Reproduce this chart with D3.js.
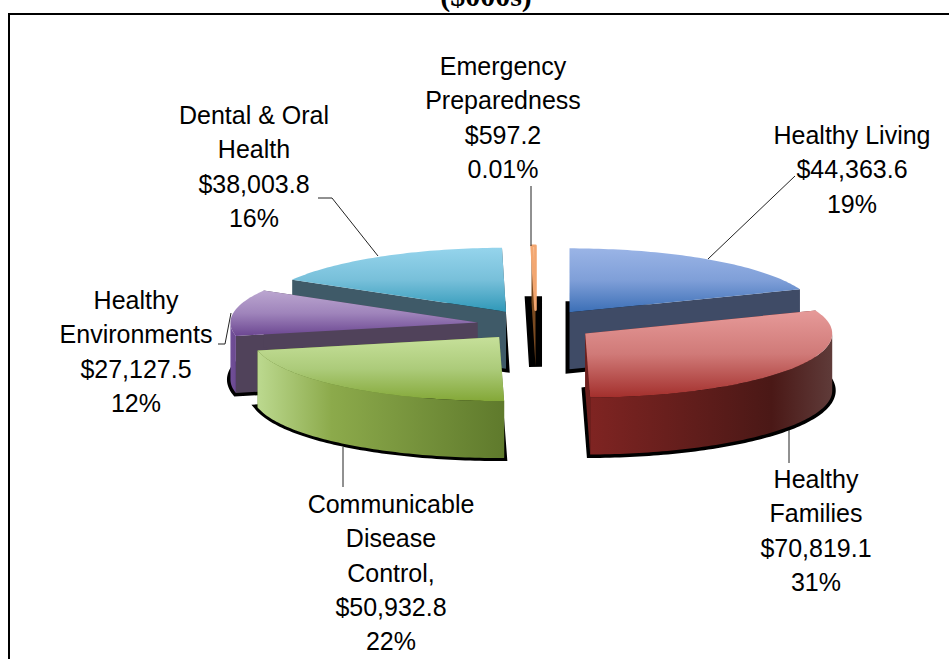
<!DOCTYPE html>
<html><head><meta charset="utf-8">
<script src="https://cdnjs.cloudflare.com/ajax/libs/d3/7.8.5/d3.min.js"></script>
<style>html,body{margin:0;padding:0;background:#fff;overflow:hidden}svg{display:block}</style>
</head><body><svg id="c" width="949" height="659"></svg>
<script>
// Data
const categories = ["Healthy Living","Healthy Families","Communicable Disease Control","Healthy Environments","Dental & Oral Health","Emergency Preparedness"];
const values = [44363.6,70819.1,50932.8,27127.5,38003.8,597.2];
const labelLines = [
  ["Healthy Living","$44,363.6","19%"],
  ["Healthy","Families","$70,819.1","31%"],
  ["Communicable","Disease","Control,","$50,932.8","22%"],
  ["Healthy","Environments","$27,127.5","12%"],
  ["Dental & Oral","Health","$38,003.8","16%"],
  ["Emergency","Preparedness","$597.2","0.01%"]
];
// Styles
const topColors = [["#9ab4e6","#7f9fd8","#3b6fb6"],["#e69a99","#d07a78","#a32f2c"],["#c6e09a","#accb7a","#84a838"],["#bba6d0","#9f84bb","#6b4691"],["#95d4ec","#78c0da","#2f98b8"],["#f8bd90","#f2a670","#e08a4a"]];
const wallColors = [["#3f4b66","#3f4b66","#3f4b66"],["#7f2422","#4a1816","#5f3b39"],["#bcd98f","#8caa4b","#5f7a2c"],["#70509a","#6f4d96","#6b4a90"],["#3f5a68","#3f5a68","#3f5a68"],["#8a5a30","#8a5a30","#8a5a30"]];
const cutColors = ["#3f4b66","#6e201e","#5f7a2c","#50425a","#3f5a68","#7a4a20"];
const shadowWidths = [8,7,6,7,7,13];
const paintOrder = [4,5,0,3,2,1];
// Layout
const W=949,H=659;
const center={x:536,y:325}, rx=247, ry=64, depth=57, explode=0.24;
const labelBoxes=[{x:852,y:135},{x:816,y:479},{x:391,y:504},{x:136,y:300},{x:254,y:115},{x:503,y:66}];
const lineStep=34.4, fontSize=25;
const leaders=[[[795,176],[708,259]],[[789,430],[789,463]],[[343,447],[343,487]],[[218,344],[225,344],[231,313]],[[318,198],[332,198],[378,256]],[[531,186],[531,246]]];

const svg=d3.select("#c");
const defs=svg.append("defs");
svg.append("rect").attr("width",W).attr("height",H).attr("fill","#fff");

const pie=d3.pie().sort(null).value(d=>d).startAngle(0).endAngle(2*Math.PI);
const arcs=pie(values);
const xS=d3.scaleLinear().domain([-1,1]).range([-rx,rx]);
const yS=d3.scaleLinear().domain([-1,1]).range([ry,-ry]);
const pt=(o,a,dy=0)=>[o.x+xS(Math.sin(a)),o.y+yS(Math.cos(a))+dy];
const line=d3.line();
function arcPts(o,a0,a1,dy=0){
  const n=Math.max(2,Math.ceil((a1-a0)/0.02));
  return d3.range(n+1).map(i=>pt(o,a0+(a1-a0)*i/n,dy));
}
function gradient(id,cols,horizontal,stops){
  const g=defs.append("linearGradient").attr("id",id).attr("x1",0).attr("y1",0)
    .attr("x2",horizontal?1:0).attr("y2",horizontal?0:1);
  cols.forEach((c,i)=>g.append("stop").attr("offset",stops[i]).attr("stop-color",c));
}
arcs.forEach((d,i)=>{
  gradient("top"+i,topColors[i],false,[0,0.5,1]);
  gradient("wall"+i,wallColors[i],true,i===1?[0,0.75,1]:[0,0.3,1]);
});
const chart=svg.append("g");
paintOrder.forEach(i=>{
  const d=arcs[i];
  const mid=(d.startAngle+d.endAngle)/2;
  const o={x:center.x+explode*xS(Math.sin(mid)),y:center.y+explode*yS(Math.cos(mid))};
  const g=chart.append("g").attr("class","slice").datum(categories[i]);
  const sector=dy=>[[o.x,o.y+dy],...arcPts(o,d.startAngle,d.endAngle,dy)];
  g.append("path").attr("d",line(sector(depth))+"Z").attr("fill","#000").attr("stroke","#000")
    .attr("stroke-width",shadowWidths[i]).attr("stroke-linejoin","miter");
  [d.startAngle,d.endAngle].forEach(a=>{
    const p=pt(o,a);
    g.append("path").attr("d",line([[o.x,o.y],p,[p[0],p[1]+depth],[o.x,o.y+depth]])+"Z")
      .attr("fill",cutColors[i]);
  });
  const w0=Math.max(d.startAngle,Math.PI/2), w1=Math.min(d.endAngle,3*Math.PI/2);
  if(w1>w0){
    const pts=[...arcPts(o,w0,w1),...arcPts(o,w0,w1,depth).reverse()];
    g.append("path").attr("d",line(pts)+"Z").attr("fill",`url(#wall${i})`);
  }
  const t=g.append("path").attr("d",line(sector(0))+"Z").attr("fill",`url(#top${i})`);
  if(i===5) t.attr("stroke","#f2a670").attr("stroke-width",2.5).attr("stroke-linejoin","round");
});
const lg=svg.append("g");
leaders.forEach(l=>lg.append("path").attr("d",line(l)).attr("fill","none").attr("stroke","#222").attr("stroke-width",1));
const tg=svg.append("g").attr("font-family","'Liberation Sans',Arial,sans-serif").attr("font-size",fontSize).attr("fill","#000").attr("text-anchor","middle");
labelLines.forEach((ls,i)=>ls.forEach((s,j)=>{
  tg.append("text").attr("x",labelBoxes[i].x).attr("y",labelBoxes[i].y+j*lineStep).attr("dy","0.35em").text(s);
}));
svg.append("text").attr("x",486).attr("y",6).attr("text-anchor","middle")
  .attr("font-family","'Liberation Serif','Times New Roman',serif").attr("font-weight","bold").attr("font-size",30).text("($000s)");
svg.append("rect").attr("x",9).attr("y",14).attr("width",W+10).attr("height",H).attr("fill","none").attr("stroke","#000").attr("stroke-width",2);
</script></body></html>
